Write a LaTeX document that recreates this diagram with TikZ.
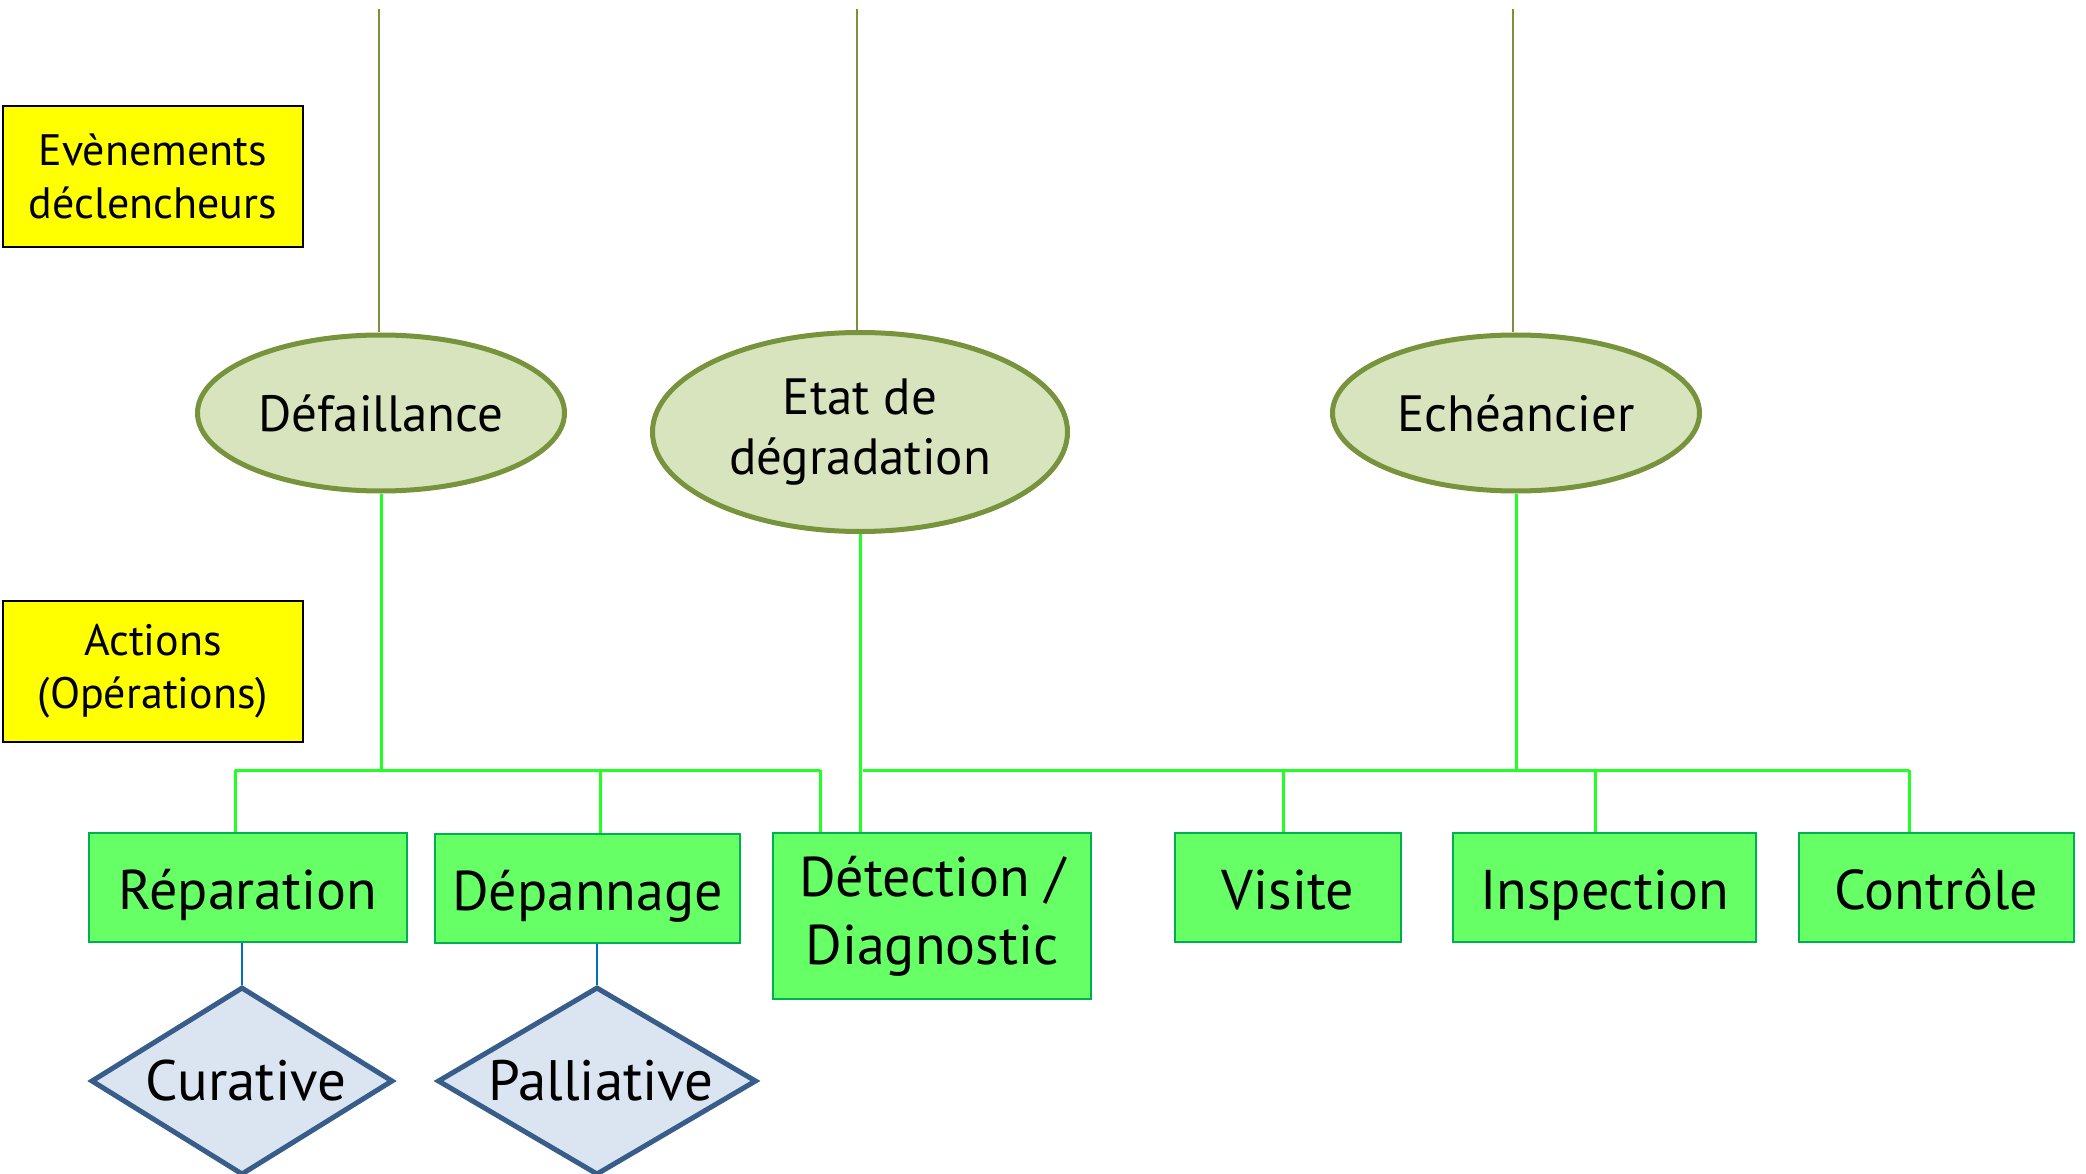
\documentclass[tikz,border=0pt]{standalone}
\usepackage{fontspec}
\setmainfont{PT Sans}
\usetikzlibrary{shapes.geometric}

\definecolor{evline}{HTML}{77933C}
\definecolor{evfill}{HTML}{D7E4BD}
\definecolor{link}{HTML}{22FF22}
\definecolor{actfill}{HTML}{66FF66}
\definecolor{actline}{HTML}{00B050}
\definecolor{tagfill}{HTML}{FFFF00}
\definecolor{typefill}{HTML}{DBE5F1}
\definecolor{typeline}{HTML}{385D8A}
\definecolor{typelink}{HTML}{0070C0}

\tikzset{
  event/.style={ellipse, draw=evline, line width=5pt, fill=evfill, inner sep=0pt,
    align=center, font=\fontsize{51}{60}\selectfont},
  action/.style={rectangle, draw=actline, line width=2.5pt, fill=actfill, inner sep=0pt,
    align=center, font=\fontsize{56}{68}\selectfont},
  oneline/.style={text height=50pt, text depth=6pt},
  tag/.style={rectangle, draw=black, line width=2.5pt, fill=tagfill, inner sep=0pt,
    align=center, minimum width=300pt, minimum height=141pt,
    font=\fontsize{44}{53}\selectfont},
  kind/.style={diamond, draw=typeline, line width=5pt, fill=typefill, inner sep=0pt,
    minimum height=188pt, font=\fontsize{57}{68}\selectfont},
  trigger/.style={draw=evline, line width=2.5pt},
  branch/.style={draw=link, line width=3pt},
  sublink/.style={draw=typelink, line width=2pt}
}

\begin{document}
\begin{tikzpicture}[x=1pt, y=-1pt]
\useasboundingbox (0,0) rectangle (2086,1174);

% row labels
\node[tag] (evts) at (153,176.5) {Evènements\\déclencheurs};
\node[tag] (acts) at (153,671.5) {Actions\\(Opérations)};

% triggering events
\node[event, minimum width=367pt, minimum height=156pt] (def) at (381,413) {Défaillance};
\node[event, minimum width=415pt, minimum height=199pt] (etat) at (860,432) {Etat de\\dégradation};
\node[event, minimum width=367pt, minimum height=156pt] (ech) at (1516,413) {Echéancier};

% incoming lines from the top
\coordinate (tdef) at (379,9);
\coordinate (tetat) at (857,9);
\coordinate (tech) at (1513,9);
\draw[trigger] (tdef) -- (tdef |- def.north);
\draw[trigger] (tetat) -- (tetat |- etat.north);
\draw[trigger] (tech) -- (tech |- ech.north);

% actions
\node[action, oneline, minimum width=318pt, minimum height=109pt] (rep) at (248,887.5) {Réparation};
\node[action, oneline, minimum width=305pt, minimum height=109pt] (dep) at (587.5,888.5) {Dépannage};
\node[action, minimum width=318pt, minimum height=166pt] (det) at (932,916) {Détection /\\Diagnostic};
\node[action, oneline, minimum width=226pt, minimum height=109pt] (vis) at (1288,887.5) {Visite};
\node[action, oneline, minimum width=303pt, minimum height=109pt] (ins) at (1604.5,887.5) {Inspection};
\node[action, oneline, minimum width=275pt, minimum height=109pt] (con) at (1936.5,887.5) {Contrôle};

% kinds of corrective action (text boxed to zero width so the outline keeps its size)
\node[kind, minimum width=302pt] (cur) at (242,1081) {\makebox[0pt]{\hspace{8pt}Curative}};
\node[kind, minimum width=319pt] (pal) at (597,1081) {\makebox[0pt]{\hspace{8pt}Palliative}};

% branching from the events to the actions
\coordinate (busL) at (235,770);
\coordinate (busLe) at (820,770);
\coordinate (busR) at (863,770);
\coordinate (busRe) at (1909,770);

\draw[branch] (def.south) -- (def.south |- busL);
\draw[branch] (busL) -- (busLe);
\draw[branch] (busL) -- (busL |- rep.north);
\draw[branch] (600,770) -- (600,0 |- dep.north);
\draw[branch] (busLe) -- (busLe |- det.north);

\draw[branch] (etat.south) -- (etat.south |- det.north);
\draw[branch] (ech.south) -- (ech.south |- busR);
\draw[branch] (busR) -- (busRe);
\draw[branch] (1283,770) -- (1283,0 |- vis.north);
\draw[branch] (1595,770) -- (1595,0 |- ins.north);
\draw[branch] (busRe) -- (busRe |- con.north);

% actions to their kinds
\draw[sublink] (cur.north |- rep.south) -- (cur.north);
\draw[sublink] (pal.north |- dep.south) -- (pal.north);
\end{tikzpicture}
\end{document}
